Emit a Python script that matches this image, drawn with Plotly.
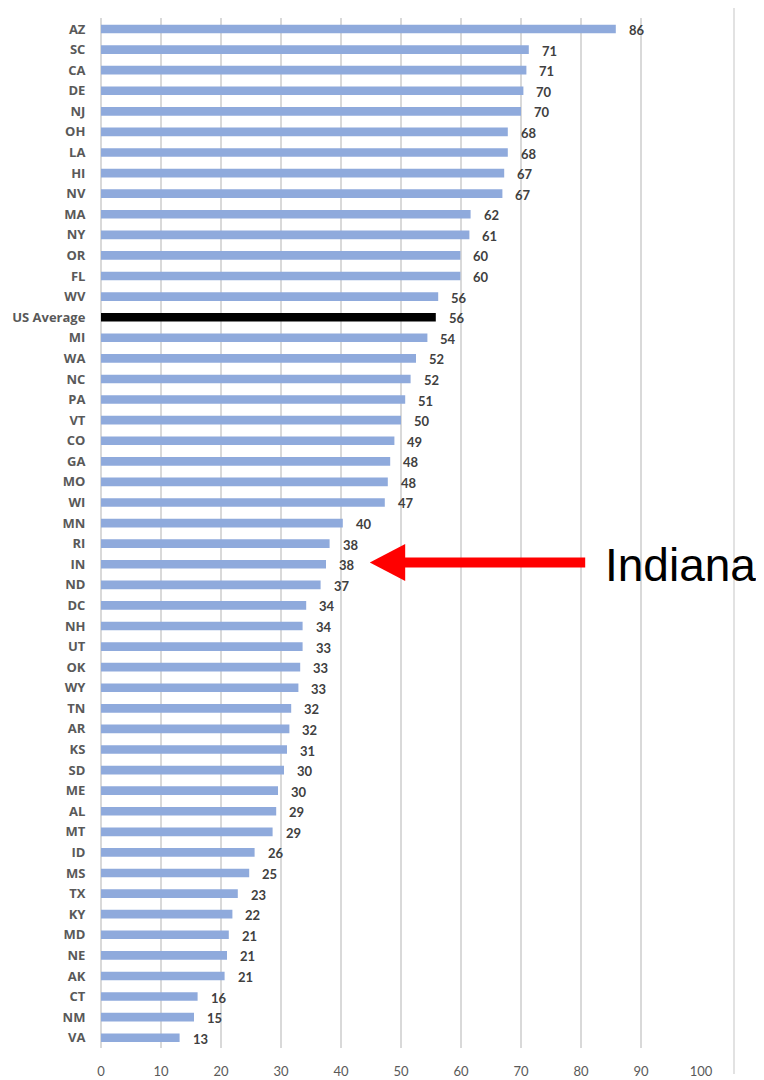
import plotly.graph_objects as go

states = ["AZ", "SC", "CA", "DE", "NJ", "OH", "LA", "HI", "NV", "MA", "NY", "OR", "FL", "WV",
          "US Average", "MI", "WA", "NC", "PA", "VT", "CO", "GA", "MO", "WI", "MN", "RI", "IN",
          "ND", "DC", "NH", "UT", "OK", "WY", "TN", "AR", "KS", "SD", "ME", "AL", "MT", "ID",
          "MS", "TX", "KY", "MD", "NE", "AK", "CT", "NM", "VA"]
values = [85.8, 71.3, 70.9, 70.4, 70.0, 67.8, 67.8, 67.2, 66.9, 61.6, 61.4, 59.9, 59.9, 56.2,
          55.8, 54.4, 52.5, 51.6, 50.7, 50.0, 48.9, 48.2, 47.8, 47.3, 40.3, 38.1, 37.5,
          36.6, 34.2, 33.6, 33.6, 33.2, 32.9, 31.7, 31.4, 31.0, 30.5, 29.5, 29.2, 28.6, 25.6,
          24.7, 22.8, 21.9, 21.3, 21.0, 20.6, 16.1, 15.5, 13.1]
labels = [86, 71, 71, 70, 70, 68, 68, 67, 67, 62, 61, 60, 60, 56,
          56, 54, 52, 52, 51, 50, 49, 48, 48, 47, 40, 38, 38,
          37, 34, 34, 33, 33, 33, 32, 32, 31, 30, 30, 29, 29, 26,
          25, 23, 22, 21, 21, 21, 16, 15, 13]
x_ticks = [0, 10, 20, 30, 40, 50, 60, 70, 80, 90, 100]
highlight = "US Average"
callout = "Indiana"

BAR = "#8FAADC"
colors = ["#000000" if s == highlight else BAR for s in states]

fig = go.Figure()
fig.add_trace(go.Bar(
    x=values, y=states, orientation="h",
    marker=dict(color=colors, line=dict(width=0)),
    width=0.42, hoverinfo="x+y",
))

for s, v, lab in zip(states, values, labels):
    fig.add_annotation(
        x=v, y=s, xref="x", yref="y", text=str(lab), showarrow=False,
        xanchor="left", yanchor="middle", xshift=11, yshift=-1,
        font=dict(family="Lato", size=13, color="#404040", weight="bold"),
    )

# page has an 8px body margin; figure is sized to fit the window
W, HT = 756, 1072
L, R, T, B = 93, 63, 10, 32
PX0, PY0 = 8 + L, 8 + T          # page pixel of plot top-left
H = HT - T - B

def py(pix):
    return 1 - (pix - PY0) / H

def px(pix):
    return (pix - PX0) / (W - L - R)

yc = 562.5
fig.add_shape(type="rect", xref="x", yref="paper",
              x0=50.0, x1=80.7, y0=py(yc - 5), y1=py(yc + 5),
              fillcolor="#FF0000", line=dict(width=0))
fig.add_shape(type="path", xref="x", yref="paper",
              path=f"M 44.8 {py(yc)} L 50.7 {py(yc - 18.5)} L 50.7 {py(yc + 18.5)} Z",
              fillcolor="#FF0000", line=dict(width=0))
fig.add_annotation(x=px(603), y=py(565), xref="paper", yref="paper",
                   text=callout, showarrow=False, xanchor="left", yanchor="middle",
                   font=dict(family="Liberation Sans", size=46, color="#000000"))

# right border line
fig.add_shape(type="line", xref="paper", yref="paper",
              x0=px(734), x1=px(734),
              y0=py(1074), y1=py(5), line=dict(color="#D9D9D9", width=1.5))

fig.update_layout(
    width=W, height=HT,
    margin=dict(l=L, r=R, t=T, b=B, autoexpand=False),
    plot_bgcolor="white", paper_bgcolor="white",
    showlegend=False,
    xaxis=dict(range=[0, 100], tickvals=x_ticks, showgrid=True, gridcolor="#D9D9D9",
               gridwidth=1.5, zeroline=True, zerolinecolor="#D9D9D9", zerolinewidth=1.5,
               showline=False, ticks="outside", ticklen=11, tickcolor="rgba(0,0,0,0)",
               automargin=False,
               tickfont=dict(family="Lato", size=13, color="#595959")),
    yaxis=dict(categoryorder="array", categoryarray=states, autorange="reversed",
               showgrid=False, zeroline=False, showline=False, automargin=False,
               ticks="outside", ticklen=12, tickcolor="rgba(0,0,0,0)",
               tickfont=dict(family="Open Sans", size=13, color="#595959", weight="bold")),
)

fig.write_html("out.html")
